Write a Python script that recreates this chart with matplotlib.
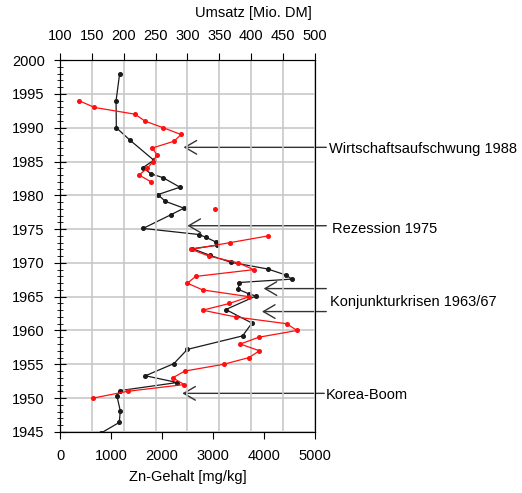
import matplotlib.pyplot as plt
import numpy as np

plt.rcParams['font.family'] = ['Liberation Sans', 'DejaVu Sans']

# Zn content in sediment (black, bottom axis)
zn_years = [1998, 1994, 1990, 1988.2, 1985.2, 1984.1, 1983.2, 1982.6, 1981.2,
            1980.1, 1979.1, 1978.1, 1977.1, 1975.1, 1974.2, 1973.8, 1973.1,
            1972.6, 1972.1, 1971.1, 1970.1, 1969.1, 1968.2, 1967.6, 1967.1,
            1966.1, 1965.4, 1965.1, 1963.1, 1961.1, 1959.2, 1957.2, 1955.1,
            1953.3, 1952.3, 1951.1, 1950.3, 1948.1, 1946.4, 1944.8]
zn_values = [1170, 1100, 1105, 1367, 1840, 1630, 1780, 2025, 2353,
             1919, 2070, 2432, 2169, 1630, 2728, 2860, 3057,
             3076, 2600, 2950, 3350, 4076, 4437, 4549, 3516,
             3497, 3713, 3845, 3254, 3767, 3583, 2498, 2235,
             1676, 2301, 1170, 1117, 1183, 1163, 800]

# Umsatz (red, top axis); gaps as NaN
ums_years = [1994, 1993, 1992, 1991, 1990, 1989, 1988, 1987, 1986, 1985, 1984,
             1983, 1982, 1980, 1978, 1976, 1974, 1973, 1972, 1971, 1970, 1969,
             1968, 1967, 1966, 1965, 1964, 1963, 1962, 1961, 1960, 1959, 1958,
             1957, 1956, 1955, 1954, 1953, 1952, 1951, 1950]
ums_values = [130, 154, 218, 233, 262, 290, 279, 245, 252, 246, 237,
              224, 243, np.nan, 343, np.nan, 427, 367, 306, 334, 380, 404,
              313, 300, 324, 397, 366, 324, 376, 456, 472, 412, 383,
              413, 397, 357, 296, 277, 295, 206, 152]

# annotations: text, text x, text y, arrow tail x, arrow heads (Zn, year)
notes = [
    ("Wirtschaftsaufschwung 1988", 5285, 1986.8, 5226, [(2425, 1987.1)]),
    ("Rezession 1975", 5338, 1975.0, 5226, [(2500, 1975.5)]),
    ("Konjunkturkrisen 1963/67", 5305, 1964.25, 5226, [(3997, 1966.2), (3964, 1962.8)]),
    ("Korea-Boom", 5206, 1950.45, 5186, [(2400, 1950.7)]),
]

fig = plt.figure(figsize=(5.22, 4.93), dpi=100)
ax = fig.add_axes([0.115, 0.124, 0.488, 0.754])
ax2 = ax.twiny()

ax.set_xlim(0, 5000)
ax.set_ylim(1945, 2000)
ax2.set_xlim(100, 500)

ax.set_yticks(np.arange(1945, 2001, 5))
ax.set_yticks(np.arange(1945, 2001, 1), minor=True)
ax.set_xticks(np.arange(0, 5001, 1000))
ax2.set_xticks(np.arange(100, 501, 50))

ax2.grid(axis='x', color='#c8c8c8', lw=1.2)
ax.grid(axis='y', color='#c8c8c8', lw=1.2)
ax.set_axisbelow(True)
ax2.set_axisbelow(True)

fs = 10.5
ax.tick_params(axis='y', which='major', direction='inout', length=8, pad=7, labelsize=fs)
ax.tick_params(axis='y', which='minor', direction='inout', length=4)
ax.tick_params(axis='x', direction='out', length=5, pad=7, labelsize=fs)
ax2.tick_params(axis='x', direction='out', length=5, pad=7, labelsize=fs)

ax2.plot(ums_values, ums_years, color='#ff1010', lw=0.9, marker='o', ms=2.6, zorder=3)
ax.plot(zn_values, zn_years, color='#1a1a1a', lw=0.9, marker='o', ms=2.6, zorder=4)

ax.set_xlabel('Zn-Gehalt [mg/kg]', fontsize=fs)
ax.xaxis.set_label_coords(0.5, -0.102)
ax2.set_xlabel('Umsatz [Mio. DM]', fontsize=fs)
ax2.xaxis.set_label_coords(0.758, 1.115)

for label, tx, ty, tail, heads in notes:
    for hx, hy in heads:
        ax.annotate('', xy=(hx, hy), xytext=(tail, hy), annotation_clip=False,
                    arrowprops=dict(arrowstyle='->,head_length=0.6,head_width=0.35',
                                    color='#333333', lw=1, mutation_scale=14,
                                    shrinkA=0, shrinkB=0))
    ax.text(tx, ty, label, fontsize=fs, va='center', ha='left', clip_on=False)

fig.savefig('out.png', dpi=100)
